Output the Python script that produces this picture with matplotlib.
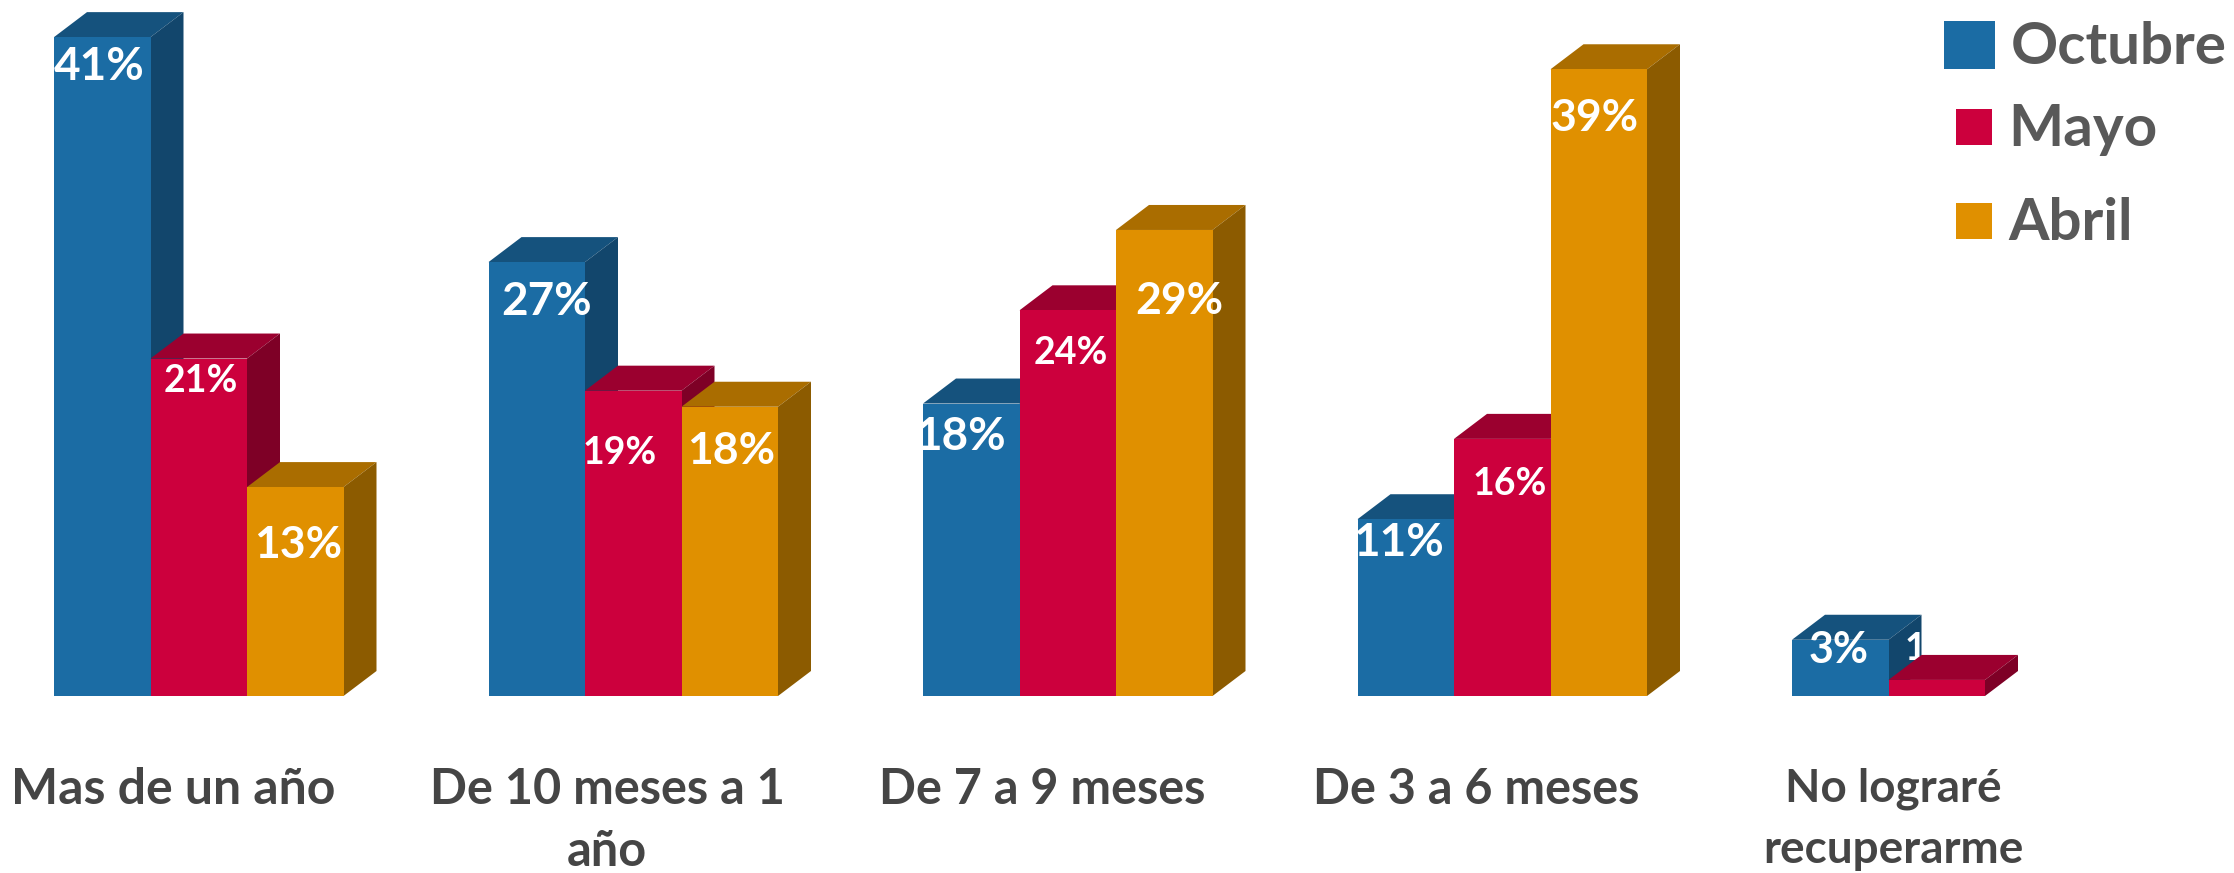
import numpy as np
import matplotlib
matplotlib.use('Agg')
import matplotlib.pyplot as plt
from matplotlib.patches import Polygon, Rectangle
from matplotlib.transforms import Affine2D

categories = ['Mas de un año', 'De 10 meses a 1\naño', 'De 7 a 9 meses',
              'De 3 a 6 meses', 'No lograré\nrecuperarme']
series_names = ['Octubre', 'Mayo', 'Abril']
octubre = [41, 27, 18.2, 11, 3.5]
mayo = [21, 19, 24, 16, 1]
abril = [13, 18, 29, 39, np.nan]
octubre_labels = ['41%', '27%', '18%', '11%', '3%']
mayo_labels = ['21%', '19%', '24%', '16%', '1%']
abril_labels = ['13%', '18%', '29%', '39%', '']

# colores: frente, tapa, lado
front = ['#1B6CA4', '#CC003D', '#E09000']
top = ['#15527D', '#9B002F', '#AA6D00']
side = ['#12466C', '#7E0026', '#8C5B00']

# desplazamiento de cada etiqueta respecto al centro/tope de la barra (px)
label_off = [
    [(-3, 30), (10, 40), (-11, 33), (-7, 24), (-2, 10)],
    [(2, 22), (-14, 62), (3, 43), (8, 45), (-6, -31)],
    [(3, 58), (1, 44), (15, 71), (-4, 49), (0, 0)],
]
label_size = [[33, 33, 33, 33, 31], [27, 27, 27, 27, 27], [32, 32, 32, 32, 27]]
cat_off = [-26, -26, -26, -26, -43]
cat_size = [36, 35, 35, 35, 33]
cat_spacing = [1.47, 1.47, 1.47, 1.47, 1.56]

W, H = 2234, 873
BASE = 696
PX_X = 434.5     # px por categoria
PX_Y = 16.07     # px por punto porcentual
BAR = 96.5 / PX_X
DX = 33 / PX_X
DY = 25 / PX_Y

plt.rcParams['font.family'] = ['Lato', 'DejaVu Sans']
fig = plt.figure(figsize=(W / 100, H / 100), dpi=100)
ax = fig.add_axes([0, (H - BASE) / H, 1, BASE / H])
ax.set_xlim(-198.75 / PX_X, (W - 198.75) / PX_X)
ax.set_ylim(0, BASE / PX_Y)
ax.axis('off')

x = np.arange(len(categories))
values = [octubre, mayo, abril]
labels = [octubre_labels, mayo_labels, abril_labels]

for s in range(3):
    xs = x + (s - 1) * BAR
    z = 2 + 2 * s
    ax.bar(xs, values[s], BAR, color=front[s], zorder=z + 1, clip_on=False)
    for xi, v in zip(xs, values[s]):
        if np.isnan(v):
            continue
        l, r = xi - BAR / 2, xi + BAR / 2
        ax.add_patch(Polygon([(l, v), (r, v), (r + DX, v + DY), (l + DX, v + DY)],
                             facecolor=top[s], edgecolor='none', zorder=z, clip_on=False))
        ax.add_patch(Polygon([(r, 0), (r + DX, DY), (r + DX, v + DY), (r, v)],
                             facecolor=side[s], edgecolor='none', zorder=z, clip_on=False))

for s in range(3):
    xs = x + (s - 1) * BAR
    for i, (xi, v) in enumerate(zip(xs, values[s])):
        if np.isnan(v):
            continue
        dx, dy = label_off[s][i]
        # el 1% queda tapado por la tapa de su propia barra
        z = 3 if v <= 1 else 20
        ax.annotate(labels[s][i], (xi, v), xytext=(dx, -dy), textcoords='offset pixels',
                    ha='center', va='center', color='white', fontweight='bold',
                    fontsize=label_size[s][i], zorder=z, annotation_clip=False)

for i, cat in enumerate(categories):
    ax.annotate(cat, (x[i], 0), xytext=(cat_off[i], -71), textcoords='offset pixels',
                ha='center', va='top', color='#454545', fontweight='bold', fontsize=cat_size[i],
                linespacing=cat_spacing[i], annotation_clip=False)

# leyenda manual, en pixeles desde arriba a la izquierda
px = Affine2D().scale(1, -1).translate(0, H)
legend_box = [(1944, 21, 51, 48), (1956, 109, 36, 36), (1956, 203, 36, 36)]
legend_text = [(2011, 48), (2008, 130), (2008, 223)]
for s, name in enumerate(series_names):
    bx, by, bw, bh = legend_box[s]
    fig.add_artist(Rectangle((bx, by), bw, bh, transform=px, facecolor=front[s], edgecolor='none'))
    fig.text(legend_text[s][0], legend_text[s][1], name, transform=px, ha='left', va='center',
             color='#595959', fontweight='bold', fontsize=42)

fig.savefig('out.png', dpi=100)
